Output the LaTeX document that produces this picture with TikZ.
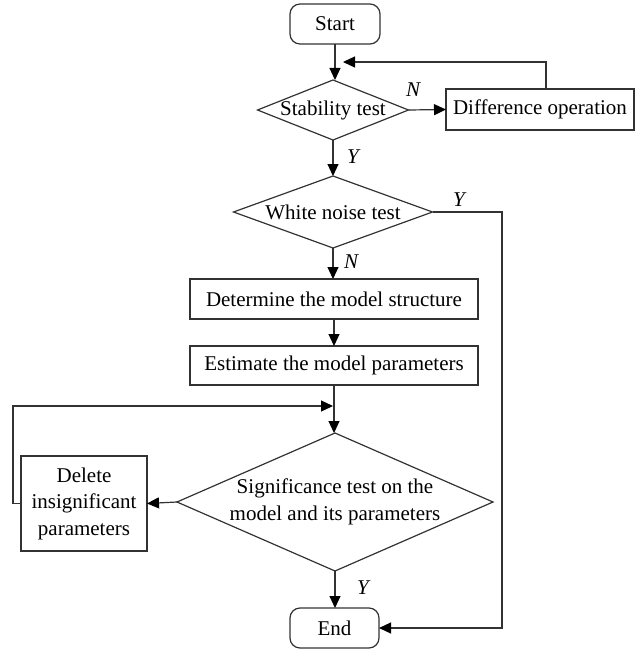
\documentclass[tikz,border=0pt]{standalone}
\usepackage{fontspec}
\setmainfont{Liberation Serif}
\usetikzlibrary{shapes.geometric,arrows.meta}
\definecolor{ln}{RGB}{50,50,50}
\begin{document}
\begin{tikzpicture}[x=1pt,y=-1pt,
  every node/.style={font=\fontsize{21}{26.5}\selectfont, text=black},
  box/.style={draw=ln, line width=1.2pt, rectangle, inner sep=0pt, outer sep=0pt},
  term/.style={box, rounded corners=10pt},
  dia/.style={draw=ln, line width=1.2pt, diamond, inner sep=0pt, outer sep=0pt},
  lab/.style={font=\fontsize{21}{26.5}\selectfont\itshape},
  con/.style={draw=ln, line width=1.2pt},
  arr/.style={con, -{Triangle[length=12pt,width=11pt,fill=black,color=black]}}
]
\useasboundingbox (0,0) rectangle (635,650);

\node[term, minimum width=90pt, minimum height=40pt] (start) at (335,24) {Start};
\node[dia, minimum width=151pt, minimum height=60pt] (d1) at (333,110) {};
\node at (d1.center) {Stability test};
\node[box, minimum width=188pt, minimum height=41pt] (diff) at (540,109.5) {Difference operation};
\node[dia, minimum width=199pt, minimum height=72pt] (d2) at (333,212) {};
\node at (d2.center) {White noise test};
\node[box, minimum width=288pt, minimum height=40pt] (det) at (334,299) {Determine the model structure};
\node[box, minimum width=288pt, minimum height=39pt] (est) at (334,365.5) {Estimate the model parameters};
\node[dia, minimum width=316pt, minimum height=138pt] (d3) at (335,502) {};
\node[align=center] at (d3.center) {Significance test on the\\model and its parameters};
\node[box, minimum width=126pt, minimum height=95pt, align=center] (del) at (84,503.5) {Delete\\insignificant\\parameters};
\node[term, minimum width=89pt, minimum height=40pt] (end) at (334.5,628) {End};

\coordinate (j1) at (343,62);
\coordinate (j2) at (333,406);

\draw[arr] (start.south) -- (start.south |- d1.north);
\draw[arr] (d1.east) -- (diff.west);
\node[lab] at (413,90) {N};
\draw[arr] (diff.north -| 546,0) -- (546,62) -- (j1);
\draw[arr] (d1.south) -- (d2.north);
\node[lab] at (353,157) {Y};
\draw[arr] (d2.east) -- (502,212) -- (502,628) -- (end.east);
\node[lab] at (459,200) {Y};
\draw[arr] (d2.south) -- (d2.south |- det.north);
\node[lab] at (351,262) {N};
\draw[arr] (det.south) -- (est.north);
\draw[arr] (est.south) -- (est.south |- d3.north);
\draw[arr] (d3.west) -- (del.east);
\draw[arr] (del.west) -- (13,503.5) -- (13,406) -- (j2);
\draw[arr] (d3.south) -- (d3.south |- end.north);
\node[lab] at (363,588) {Y};
\end{tikzpicture}
\end{document}
